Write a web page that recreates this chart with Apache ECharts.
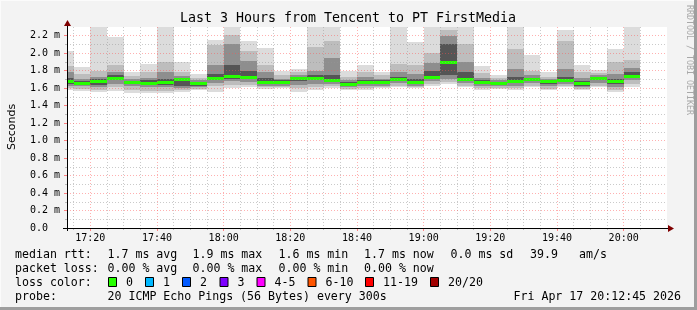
<!DOCTYPE html>
<html><head><meta charset="utf-8">
<script src="https://cdn.jsdelivr.net/npm/echarts@6/dist/echarts.min.js"></script>
<style>html,body{margin:0;padding:0;background:#f3f3f3}#c{width:697px;height:310px}</style>
</head><body><div id="c"></div>
<script>
const titleText = 'Last 3 Hours from Tencent to PT FirstMedia';
// x in minutes after 17:00; each smoke bar covers the 5 minutes ending at its slot end
const axisStart = 13, axisEnd = 193;
const slotEnds = [];
for (let k = 0; k < 35; k++) slotEnds.push(15 + 5 * k);
const timeTicks = [20, 40, 60, 80, 100, 120, 140, 160, 180];
const yTicks = [0, 0.2, 0.4, 0.6, 0.8, 1.0, 1.2, 1.4, 1.6, 1.8, 2.0, 2.2];
const yMinorTicks = [0.1, 0.3, 0.5, 0.7, 0.9, 1.1, 1.3, 1.5, 1.7, 1.9, 2.1];

// values in ms
const smokeMax = [2.02,1.84,2.30,2.19,1.79,1.88,2.30,1.90,1.76,2.15,2.30,2.14,2.06,1.80,1.82,2.30,2.30,1.80,1.86,1.79,2.30,2.13,2.30,2.30,2.30,1.85,1.755,2.30,1.98,1.78,2.26,1.87,1.805,2.045,2.30];
const smokeHi2 = [1.85,1.76,1.80,1.86,1.74,1.78,1.90,1.78,1.72,2.09,2.21,2.03,1.86,1.75,1.78,2.07,2.14,1.73,1.79,1.75,1.88,1.86,2.00,2.27,2.10,1.77,1.72,2.05,1.80,1.73,2.14,1.78,1.77,1.90,1.92];
const smokeHi3 = [1.78,1.71,1.73,1.79,1.70,1.72,1.78,1.74,1.69,1.86,2.11,1.91,1.78,1.71,1.75,1.80,1.94,1.69,1.73,1.71,1.78,1.76,1.89,2.20,1.90,1.72,1.69,1.82,1.75,1.71,1.82,1.72,1.75,1.76,1.83];
const smokeHi4 = [1.72,1.68,1.70,1.75,1.68,1.69,1.71,1.72,1.67,1.76,1.86,1.80,1.72,1.69,1.73,1.75,1.75,1.67,1.69,1.69,1.73,1.70,1.80,2.10,1.78,1.69,1.67,1.73,1.72,1.69,1.73,1.68,1.73,1.71,1.78];
const median   = [1.68,1.66,1.68,1.72,1.67,1.66,1.67,1.70,1.66,1.72,1.74,1.725,1.67,1.67,1.72,1.72,1.695,1.65,1.67,1.67,1.705,1.67,1.73,1.90,1.71,1.67,1.657,1.68,1.705,1.68,1.695,1.657,1.72,1.685,1.745];
const smokeLo4 = [1.65,1.64,1.64,1.69,1.65,1.64,1.64,1.63,1.63,1.69,1.71,1.70,1.65,1.65,1.68,1.69,1.67,1.63,1.65,1.65,1.68,1.65,1.70,1.75,1.68,1.65,1.64,1.66,1.68,1.65,1.67,1.63,1.69,1.65,1.72];
const smokeLo3 = [1.62,1.62,1.61,1.65,1.62,1.61,1.61,1.60,1.61,1.66,1.68,1.67,1.63,1.63,1.64,1.65,1.65,1.61,1.63,1.63,1.66,1.63,1.68,1.70,1.66,1.62,1.62,1.63,1.66,1.62,1.65,1.61,1.66,1.61,1.69];
const smokeLo2 = [1.60,1.59,1.58,1.61,1.58,1.57,1.57,1.58,1.59,1.62,1.64,1.64,1.61,1.61,1.60,1.61,1.62,1.59,1.60,1.61,1.63,1.61,1.65,1.67,1.63,1.60,1.60,1.60,1.63,1.59,1.63,1.59,1.63,1.58,1.65];
const smokeMin = [1.58,1.57,1.56,1.57,1.54,1.54,1.54,1.56,1.58,1.56,1.60,1.61,1.59,1.60,1.56,1.58,1.60,1.58,1.58,1.60,1.61,1.60,1.62,1.65,1.61,1.58,1.59,1.58,1.61,1.58,1.61,1.58,1.61,1.56,1.61];

const lossLabels = ['0', '1', '2', '3', '4-5', '6-10', '11-19', '20/20'];
const lossColors = ['#26ff00', '#00b8ff', '#0059ff', '#7e00ff', '#ff00ff', '#ff5500', '#ff0000', '#a10000'];

const rows = slotEnds.map((e, i) => [e - 5, e, smokeMax[i], smokeHi2[i], smokeHi3[i], smokeHi4[i], median[i], smokeLo4[i], smokeLo3[i], smokeLo2[i], smokeMin[i]]);

const mono = 'DejaVu Sans Mono';
const G = {left: 67, top: 27, right: 667, bottom: 228};
const smokeColors = ['#dcdcdc', '#bdbdbd', '#8e8e8e', '#555555'];

function fmtTime(v) { const h = 17 + Math.floor(v / 60), m = v % 60; return h + ':' + (m < 10 ? '0' : '') + m; }

function txt(text, x, y, opts) {
  opts = opts || {};
  return {type: 'text', z: 100, x: x, y: y, rotation: opts.rotation || 0,
    style: {text: text, font: (opts.size || 11.6) + 'px ' + (opts.family || mono), fill: opts.fill || '#000',
      align: opts.align || 'left', verticalAlign: 'middle', textAlign: opts.align || 'left', textVerticalAlign: 'middle'}};
}

const graphics = [];
// frame
graphics.push({type: 'line', z: 100, shape: {x1: 0, y1: 0.5, x2: 697, y2: 0.5}, style: {stroke: '#fbfbfb', lineWidth: 1}});
graphics.push({type: 'line', z: 100, shape: {x1: 0.5, y1: 0, x2: 0.5, y2: 310}, style: {stroke: '#fbfbfb', lineWidth: 1}});
graphics.push({type: 'line', z: 100, shape: {x1: 0, y1: 308.5, x2: 697, y2: 308.5}, style: {stroke: '#9e9e9e', lineWidth: 3}});
graphics.push({type: 'line', z: 100, shape: {x1: 695.5, y1: 0, x2: 695.5, y2: 310}, style: {stroke: '#9e9e9e', lineWidth: 3}});
// axes lines and arrows
graphics.push({type: 'line', z: 100, shape: {x1: 63, y1: G.bottom + 0.5, x2: 669, y2: G.bottom + 0.5}, style: {stroke: '#000', lineWidth: 1}});
graphics.push({type: 'line', z: 100, shape: {x1: G.left + 0.5, y1: G.bottom + 3, x2: G.left + 0.5, y2: 25}, style: {stroke: '#000', lineWidth: 1}});
graphics.push({type: 'polygon', z: 100, shape: {points: [[668, 225], [674, 228.5], [668, 232]]}, style: {fill: '#7f0000'}});
graphics.push({type: 'polygon', z: 100, shape: {points: [[64, 26], [67.5, 20], [71, 26]]}, style: {fill: '#7f0000'}});
// texts
graphics.push(txt(titleText, 348, 19, {size: 13.3, align: 'center'}));
graphics.push(txt('Seconds', 12, 127, {size: 11, family: 'DejaVu Sans', align: 'center', rotation: Math.PI / 2}));
graphics.push(txt('RRDTOOL / TOBI OETIKER', 689, 60, {size: 8.3, align: 'center', rotation: -Math.PI / 2, fill: '#a8a8a8'}));
const rowY = [254.5, 268.5, 282.5, 296.5];
graphics.push(txt('median rtt:', 15, rowY[0]));
[['1.7 ms avg', 107.5], ['1.9 ms max', 192.5], ['1.6 ms min', 278.5], ['1.7 ms now', 364], ['0.0 ms sd', 450.5], ['39.9', 530], ['am/s', 579]].forEach(p => graphics.push(txt(p[0], p[1], rowY[0])));
graphics.push(txt('packet loss:', 15, rowY[1]));
[['0.00 % avg', 107.5], ['0.00 % max', 192.5], ['0.00 % min', 278.5], ['0.00 % now', 364]].forEach(p => graphics.push(txt(p[0], p[1], rowY[1])));
graphics.push(txt('loss color:', 15, rowY[2]));
const boxX = [108, 145, 182, 219.5, 256.5, 307.5, 365, 430];
lossLabels.forEach((l, i) => {
  graphics.push({type: 'rect', z: 100, shape: {x: boxX[i] + 0.5, y: rowY[2] - 5, width: 8, height: 9}, style: {fill: lossColors[i], stroke: '#000', lineWidth: 1}});
  graphics.push(txt(l, boxX[i] + 18, rowY[2]));
});
graphics.push(txt('probe:', 15, rowY[3]));
graphics.push(txt('20 ICMP Echo Pings (56 Bytes) every 300s', 107.5, rowY[3]));
graphics.push(txt('Fri Apr 17 20:12:45 2026', 681, rowY[3], {align: 'right'}));

const chart = echarts.init(document.getElementById('c'), null, {renderer: 'canvas'});
const dotted = [1, 2];
chart.setOption({
  animation: false,
  backgroundColor: '#f3f3f3',
  grid: {left: G.left, top: G.top, right: 697 - G.right, bottom: 310 - G.bottom, show: true, backgroundColor: '#ffffff', borderWidth: 0},
  xAxis: [{
    type: 'value', min: axisStart, max: axisEnd, z: 5,
    axisLine: {show: false},
    axisTick: {show: true, length: 3, customValues: timeTicks, lineStyle: {color: '#ff8080'}},
    axisLabel: {customValues: timeTicks, formatter: fmtTime, margin: 5, color: '#000', fontFamily: mono, fontSize: 10},
    splitLine: {show: true, lineStyle: {color: 'rgba(255,80,80,0.45)', type: dotted, width: 1}}
  }, {
    type: 'value', min: axisStart, max: axisEnd, z: 4, position: 'bottom',
    axisLine: {show: false},
    axisTick: {show: true, length: 2, customValues: slotEnds.concat([195, 200]).filter(v => v % 20 !== 0 && v <= axisEnd), lineStyle: {color: '#bbbbbb'}},
    axisLabel: {show: false},
    splitLine: {show: true, lineStyle: {color: 'rgba(150,150,150,0.5)', type: dotted, width: 1}}
  }],
  yAxis: [{
    type: 'value', min: 0, max: 2.3, z: 5,
    axisLine: {show: false},
    axisTick: {show: true, length: 3, customValues: yTicks, lineStyle: {color: '#ff8080'}},
    axisLabel: {customValues: yTicks, align: 'left', margin: 37, color: '#000', fontFamily: mono, fontSize: 10,
      formatter: v => v === 0 ? '0.0' : v.toFixed(1) + ' m'},
    splitLine: {show: true, lineStyle: {color: 'rgba(255,80,80,0.45)', type: dotted, width: 1}}
  }, {
    type: 'value', min: 0, max: 2.3, z: 4, position: 'left',
    axisLine: {show: false},
    axisTick: {show: true, length: 2, customValues: yMinorTicks, lineStyle: {color: '#bbbbbb'}},
    axisLabel: {show: false},
    splitLine: {show: true, lineStyle: {color: 'rgba(150,150,150,0.5)', type: dotted, width: 1}}
  }],
  series: [{
    type: 'custom', xAxisIndex: 0, yAxisIndex: 0, z: 2, clip: true,
    data: rows,
    renderItem: function (params, api) {
      const cs = params.coordSys;
      const xa = Math.max(api.coord([api.value(0), 0])[0], cs.x);
      const xb = Math.min(api.coord([api.value(1), 0])[0], cs.x + cs.width);
      const yy = v => Math.max(api.coord([axisStart, v])[1], cs.y);
      const children = [];
      const pairs = [[2, 10], [3, 9], [4, 8], [5, 7]];
      pairs.forEach((p, li) => {
        const yt = yy(api.value(p[0])), yb = yy(api.value(p[1]));
        children.push({type: 'rect', shape: {x: Math.round(xa), y: Math.round(yt), width: Math.round(xb) - Math.round(xa), height: Math.round(yb) - Math.round(yt)}, style: {fill: smokeColors[li]}});
      });
      const ym = yy(api.value(6));
      children.push({type: 'rect', shape: {x: Math.round(xa), y: Math.round(ym) - 1, width: Math.round(xb) - Math.round(xa), height: 3}, style: {fill: lossColors[0]}});
      return {type: 'group', children: children};
    }
  }],
  graphic: graphics
});
</script></body></html>
